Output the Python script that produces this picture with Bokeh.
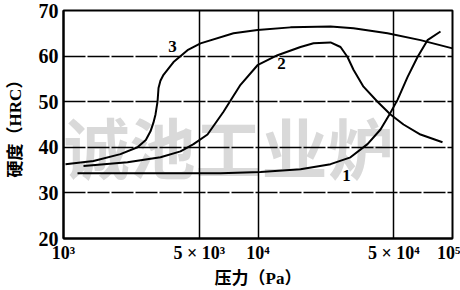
from bokeh.plotting import figure
from bokeh.models import FixedTicker, Label
from bokeh.core.properties import value
from bokeh.embed import file_html
from bokeh.resources import INLINE

# Curve 1
pressure_1 = [1180, 2801, 6416, 10300, 16540, 23600, 29890, 36560, 42640, 48000,
              52150, 58700, 66100, 74370, 86760]
hrc_1 = [34.3, 34.3, 34.3, 34.6, 35.2, 36.3, 37.8, 40.7, 43.9, 47.6,
         50.4, 55.4, 59.8, 63.5, 65.4]

# Curve 2
pressure_2 = [1267, 2133, 3153, 3995, 4660, 5501, 6646, 8128, 9940, 12600, 16540,
              19290, 23600, 26560, 28850, 30970, 34860, 41160, 48000, 55990, 68460, 88830]
hrc_2 = [35.9, 36.7, 37.8, 39.1, 40.7, 42.8, 47.8, 53.7, 58.0, 60.2, 62.0,
         62.8, 63.0, 62.0, 59.8, 57.0, 53.3, 50.0, 47.2, 45.0, 42.8, 41.1]

# Curve 3
pressure_3 = [1024, 1426, 1963, 2402, 2650, 2801, 2900, 2972, 3044, 3080, 3150, 3267,
              3678, 4341, 5063, 7482, 9940, 14695, 23597, 30974, 46330, 68464, 100000]
hrc_3 = [36.3, 37.0, 38.5, 40.0, 41.6, 43.5, 45.4, 47.2, 50.0, 53.0, 54.6, 55.9,
         58.7, 61.3, 62.8, 65.0, 65.7, 66.3, 66.5, 66.1, 65.0, 63.5, 61.7]

curve_names = ["1", "2", "3"]
name_pressure = [28510, 13210, 3634]
name_hrc = [33.9, 58.3, 62.0]

x_ticks = [1000, 5000, 10000, 50000, 100000]
x_tick_labels = ["10³", "5 × 10³", "10⁴", "5 × 10⁴", "10⁵"]
y_ticks = [20, 30, 40, 50, 60, 70]

x_title = "压力（Pa）"
y_title = "硬度（HRC）"
watermark = "诚池工业炉"

SERIF = "Liberation Serif, Noto Sans CJK SC"

p = figure(width=460, height=290, x_axis_type="log",
           x_range=(1000, 100000), y_range=(20, 70),
           output_backend="svg", toolbar_location=None,
           min_border_left=63, min_border_right=8,
           min_border_top=10, min_border_bottom=50)

p.background_fill_color = "white"
p.border_fill_color = "white"
p.outline_line_color = "black"
p.outline_line_width = 2

# watermark (faint, behind everything)
wm = Label(x=7047, y=40.6, text=watermark, text_align="center", text_baseline="middle",
           text_font="Noto Sans CJK SC", text_font_style="bold",
           text_font_size="66px", text_color="#d9d9d9", level="image")
p.add_layout(wm)

p.xaxis.ticker = FixedTicker(ticks=x_ticks)
p.xaxis.major_label_overrides = {t: l for t, l in zip(x_ticks, x_tick_labels)}
p.yaxis.ticker = FixedTicker(ticks=y_ticks)

for ax in (p.xaxis[0], p.yaxis[0]):
    ax.axis_line_color = "black"
    ax.axis_line_width = 2
    ax.major_tick_in = 0
    ax.major_tick_out = 0
    ax.minor_tick_in = 0
    ax.minor_tick_out = 0
    ax.major_label_text_font = SERIF
    ax.major_label_text_font_style = "bold"
    ax.major_label_text_color = "black"
    ax.axis_label_text_font = SERIF
    ax.axis_label_text_font_style = "bold"
    ax.axis_label_text_color = "black"
    ax.axis_label_text_font_size = "17px"
    ax.major_label_standoff = 5

p.xaxis.major_label_text_font_size = "18px"
p.yaxis.major_label_text_font_size = "20px"
p.xaxis.major_label_standoff = 4
p.xaxis.axis_label = x_title
p.yaxis.axis_label = y_title
p.xaxis.axis_label_standoff = 3
p.yaxis.axis_label_standoff = 11

p.xgrid.grid_line_color = "black"
p.xgrid.grid_line_width = 1.5
p.ygrid.grid_line_color = "black"
p.ygrid.grid_line_width = 1.5
p.ygrid.grid_line_dash = "22 2"

for xs, ys in ((pressure_1, hrc_1), (pressure_2, hrc_2), (pressure_3, hrc_3)):
    p.line(xs, ys, line_color="black", line_width=2)

p.text(x=name_pressure, y=name_hrc, text=curve_names,
       text_font=value("Liberation Serif"), text_font_size="17px",
       text_font_style="bold", text_align="center", text_baseline="middle",
       text_color="black")

open("out.html", "w").write(file_html(p, INLINE))
